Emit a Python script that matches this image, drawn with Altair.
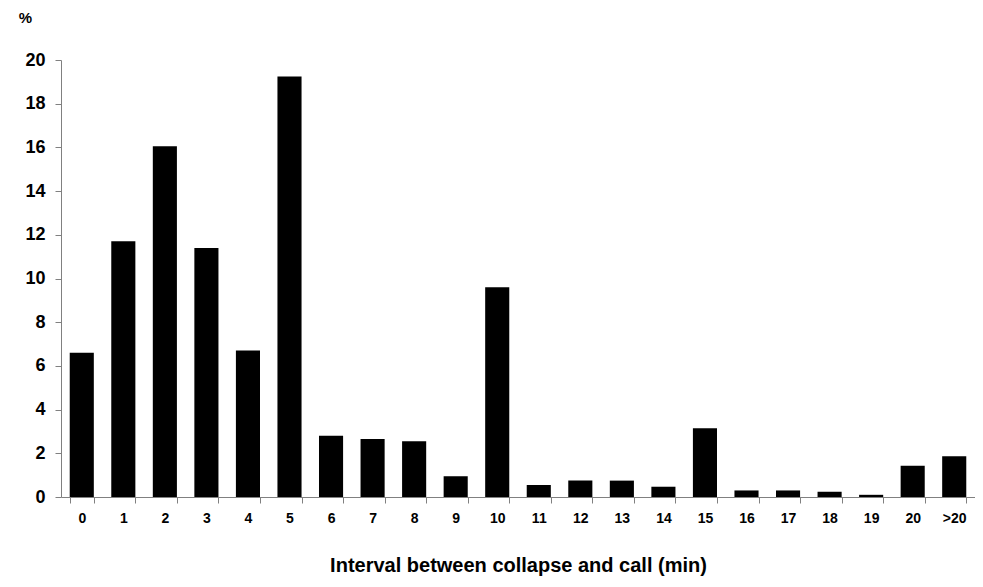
import altair as alt
import pandas as pd

categories = ["0", "1", "2", "3", "4", "5", "6", "7", "8", "9", "10",
              "11", "12", "13", "14", "15", "16", "17", "18", "19", "20", ">20"]
values = [6.6, 11.7, 16.05, 11.4, 6.7, 19.25, 2.8, 2.65, 2.55, 0.95, 9.6,
          0.55, 0.75, 0.75, 0.47, 3.15, 0.3, 0.3, 0.24, 0.1, 1.43, 1.87]

df = pd.DataFrame({"interval": categories, "pct": values})

chart = alt.Chart(df).mark_bar(color="black").encode(
    x=alt.X("interval:N", sort=categories,
            scale=alt.Scale(paddingInner=0.42, paddingOuter=0.21),
            axis=alt.Axis(title="Interval between collapse and call (min)",
                          labelAngle=0, tickBand="extent",
                          labelFont="Liberation Sans", labelFontSize=14,
                          labelFontWeight="bold", labelColor="black",
                          labelPadding=8, tickSize=6, tickColor="#808080",
                          domainColor="#808080", titleFont="Liberation Sans",
                          titleFontSize=20, titleFontWeight="bold",
                          titleColor="black", titlePadding=30)),
    y=alt.Y("pct:Q", scale=alt.Scale(domain=[0, 20], nice=False),
            axis=alt.Axis(title="%", values=list(range(0, 21, 2)), grid=False,
                          titleAngle=0, titleX=-36, titleY=-35,
                          titleFont="Liberation Sans", titleFontSize=15,
                          titleFontWeight="bold", titleColor="black",
                          labelFont="Liberation Sans", labelFontSize=18,
                          labelFontWeight="bold", labelColor="black",
                          labelPadding=10, tickSize=6, tickColor="#808080",
                          domainColor="#808080")),
).properties(
    width=914, height=437,
    padding={"left": 53, "top": 52, "right": 0, "bottom": 82},
    autosize=alt.AutoSizeParams(type="none"),
).configure_view(stroke=None)

chart.save("out.html", embed_options={"renderer": "svg", "actions": False})
